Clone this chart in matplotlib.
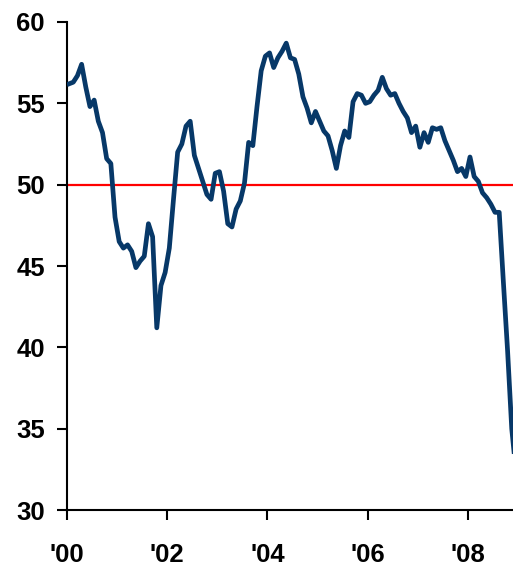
import numpy as np
import matplotlib.pyplot as plt

# Monthly index, Jan 2000 - Dec 2008
values_2000 = [56.2, 56.3, 56.7, 57.4, 56.0, 54.8, 55.2, 53.9, 53.2, 51.6, 51.3, 48.0]
values_2001 = [46.5, 46.1, 46.3, 45.9, 44.9, 45.3, 45.6, 47.6, 46.8, 41.2, 43.8, 44.6]
values_2002 = [46.1, 49.1, 52.0, 52.5, 53.6, 53.9, 51.8, 51.0, 50.2, 49.4, 49.1, 50.7]
values_2003 = [50.8, 49.6, 47.6, 47.4, 48.5, 49.0, 50.1, 52.6, 52.4, 54.8, 57.0, 57.9]
values_2004 = [58.1, 57.2, 57.8, 58.2, 58.7, 57.8, 57.7, 56.8, 55.4, 54.7, 53.8, 54.5]
values_2005 = [53.9, 53.3, 53.0, 52.1, 51.0, 52.4, 53.3, 52.9, 55.1, 55.6, 55.5, 55.0]
values_2006 = [55.1, 55.5, 55.8, 56.6, 55.9, 55.5, 55.6, 55.0, 54.5, 54.1, 53.2, 53.6]
values_2007 = [52.3, 53.2, 52.6, 53.5, 53.4, 53.5, 52.7, 52.1, 51.5, 50.8, 51.0, 50.5]
values_2008 = [51.7, 50.5, 50.2, 49.5, 49.2, 48.8, 48.3, 48.3, 44.0, 39.8, 35.0, 32.4]

year_ticks = [0, 2, 4, 6, 8]
year_labels = ["'00", "'02", "'04", "'06", "'08"]
y_ticks = [30, 35, 40, 45, 50, 55, 60]

values = (values_2000 + values_2001 + values_2002 + values_2003 + values_2004
          + values_2005 + values_2006 + values_2007 + values_2008)
months = (np.arange(len(values)) + 0.5) / 12.0

plt.rcParams['font.family'] = ['Liberation Sans', 'DejaVu Sans']

fig = plt.figure(figsize=(5.13, 5.67), dpi=100)
ax = fig.add_axes([0.1306, 0.1005, 0.8694, 0.8607])

ax.axhline(50, color='#ff0000', lw=1.6, zorder=2)
ax.plot(months, values, color='#073868', lw=3.4, zorder=3, solid_joinstyle='round')

ax.set_xlim(0, 8.9)
ax.set_ylim(30, 60)
ax.set_yticks(y_ticks)
ax.set_xticks(year_ticks)
ax.set_xticklabels(year_labels)

for side in ['top', 'right']:
    ax.spines[side].set_visible(False)
for side in ['left', 'bottom']:
    ax.spines[side].set_linewidth(1.5)

ax.tick_params(axis='both', direction='out', length=7, width=1.5,
               labelsize=18.5)
ax.tick_params(axis='y', pad=9)
ax.tick_params(axis='x', pad=17)
for lbl in ax.get_xticklabels() + ax.get_yticklabels():
    lbl.set_fontweight('bold')

fig.savefig('out.png', dpi=100)
